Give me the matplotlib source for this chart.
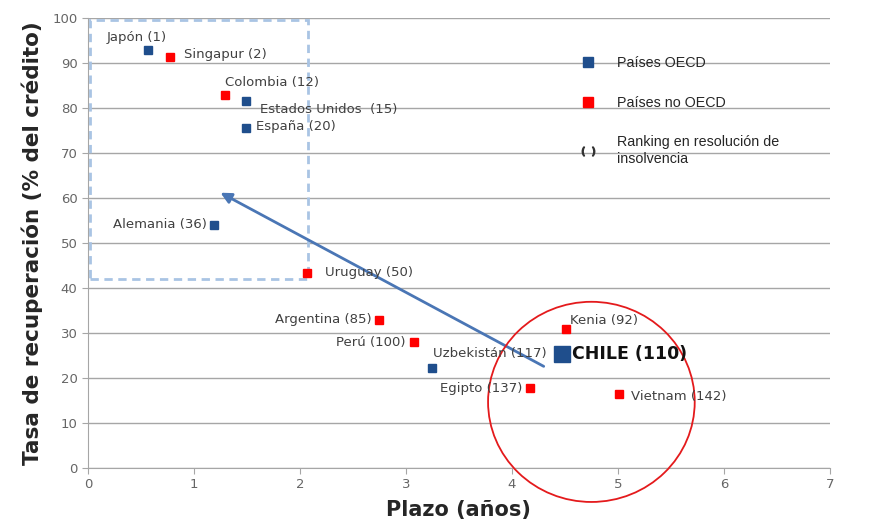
import matplotlib
matplotlib.use("Agg")
import matplotlib.pyplot as plt
from matplotlib.lines import Line2D
from matplotlib.patches import Ellipse, Rectangle

# Insolvency resolution: time (years) vs recovery rate, with Doing Business ranking
countries = [
    "Japón (1)", "Singapur (2)", "Colombia (12)", "Estados Unidos  (15)", "España (20)",
    "Alemania (36)", "Uruguay (50)", "Argentina (85)", "Perú (100)", "Uzbekistán (117)",
    "Kenia (92)", "CHILE (110)", "Egipto (137)", "Vietnam (142)",
]
plazo = [0.57, 0.77, 1.29, 1.49, 1.49, 1.19, 2.07, 2.75, 3.08, 3.25, 4.51, 4.47, 4.17, 5.01]
recuperacion = [92.9, 91.3, 82.9, 81.6, 75.6, 54.0, 43.3, 32.9, 28.0, 22.2, 30.9, 25.3, 17.8, 16.4]
oecd = [True, False, False, True, True, True, False, False, False, True, False, True, False, False]

# label offsets in pixels (dx, dy) and horizontal alignment
label_offsets = [
    (-12, 13, "center"), (14, 3, "left"), (0, 13, "left"), (14, -9, "left"), (10, 1, "left"),
    (-7, 1, "right"), (18, 1, "left"), (-8, 1, "right"), (-9, 0, "right"), (1, 15, "left"),
    (4, 9, "left"), (10, 0, "left"), (-8, -1, "right"), (12, -2, "left"),
]

C_OECD = "#1f4e8c"
C_NO = "#ff0000"
TXT = "#404040"

fig = plt.figure(figsize=(8.8, 5.2), dpi=100)
ax = fig.add_axes([0.1, 0.1, 0.843, 0.865])

ax.set_xlim(0, 7)
ax.set_ylim(0, 100)
ax.set_xticks(range(0, 8))
ax.set_yticks(range(0, 101, 10))
ax.grid(axis="y", color="#a6a6a6", lw=1)
ax.set_axisbelow(True)
for side in ("top", "right"):
    ax.spines[side].set_visible(False)
for side in ("left", "bottom"):
    ax.spines[side].set_color("#a6a6a6")
ax.tick_params(colors="#a6a6a6", labelcolor="#666666", labelsize=9.5, length=4, direction="out")

# highlighted zone of best performers
ax.add_patch(Rectangle((0.02, 42), 2.06, 57.6, fill=False, ls=(0, (3, 2)),
                       ec="#a9c4e4", lw=2, zorder=2))

for name, x, y, is_oecd, (dx, dy, ha) in zip(countries, plazo, recuperacion, oecd, label_offsets):
    chile = name.startswith("CHILE")
    ax.plot(x, y, "s", color=C_OECD if is_oecd else C_NO,
            ms=11 if chile else 6, zorder=4)
    ax.annotate(name, (x, y), xytext=(dx, dy), textcoords="offset pixels",
                ha=ha, va="center", color="#111111" if chile else TXT,
                fontsize=12.5 if chile else 9.5, fontweight="bold" if chile else "normal",
                zorder=5)

ax.annotate("", xy=(1.25, 61.2), xytext=(4.3, 22.6),
            arrowprops=dict(arrowstyle="-|>", color="#4a76b5", lw=2,
                            mutation_scale=16, shrinkA=0, shrinkB=0), zorder=3)

ax.add_patch(Ellipse((4.75, 14.7), 1.95, 44.5, fill=False, ec="#e41a1c", lw=1.3,
                     clip_on=False, zorder=3))

handles = [
    Line2D([], [], ls="none", marker="s", color=C_OECD, ms=7),
    Line2D([], [], ls="none", marker="s", color=C_NO, ms=7),
    Line2D([], [], ls="none", marker="$(\\ \\ )$", color="#333333", ms=9),
]
labels = ["Países OECD", "Países no OECD", "Ranking en resolución de\ninsolvencia"]
ax.legend(handles, labels, loc="upper left", bbox_to_anchor=(0.645, 0.945), frameon=False,
          prop={"family": "Liberation Sans", "size": 10.3}, labelcolor="#262626",
          labelspacing=1.8, handletextpad=1.4, handlelength=1.2)

ax.set_ylabel("Tasa de recuperación (% del crédito)", fontsize=15.5, fontweight="bold",
              color="#262626", labelpad=7)
ax.set_xlabel("Plazo (años)", fontsize=15, fontweight="bold", color="#262626", labelpad=6)

fig.savefig("out.png", dpi=100, facecolor="white")
